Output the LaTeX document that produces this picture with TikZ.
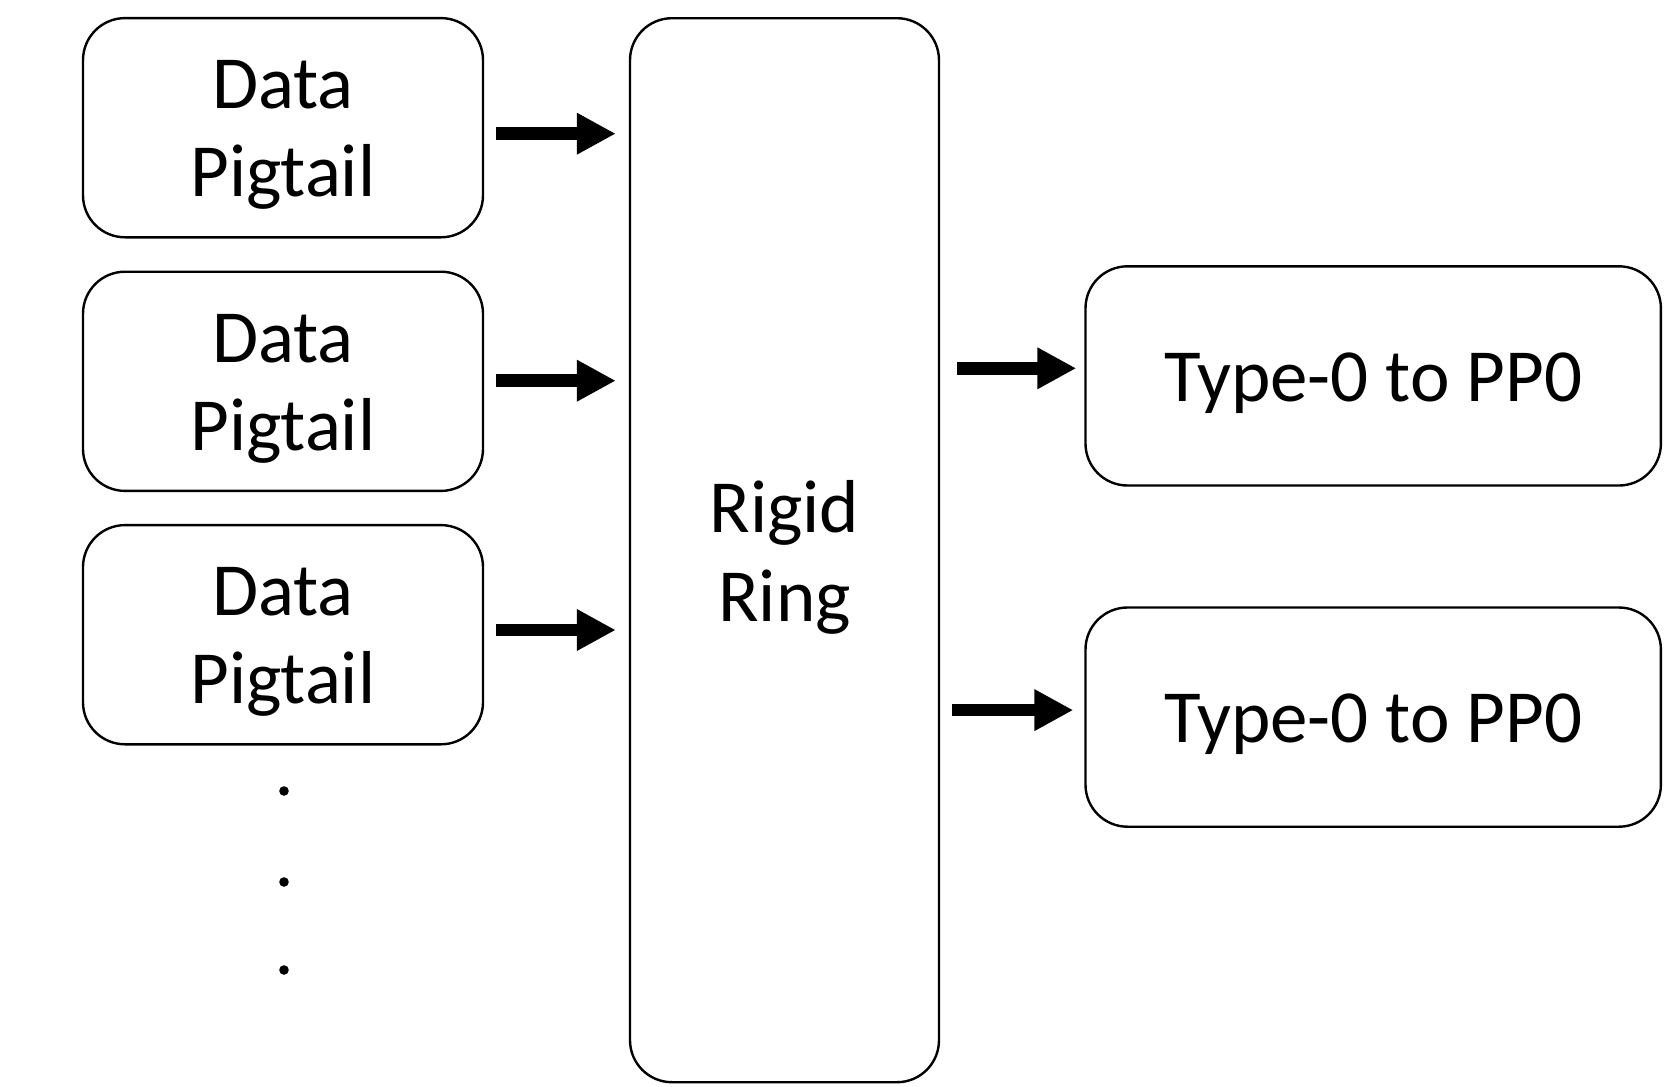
\documentclass[tikz,border=0pt]{standalone}
\usepackage{fontspec}
\setmainfont{Carlito}
\usetikzlibrary{arrows.meta}
\begin{document}
\begin{tikzpicture}[x=0.5pt,y=-0.5pt,
  box/.style={draw=black,line width=1.2pt,rounded corners=21pt,inner sep=0pt},
  lbl/.style={align=center,font=\fontsize{37.5}{44.2}\selectfont,inner sep=0pt,yshift=-3.7pt},
  arr/.style={line width=6.3pt,-{Triangle[length=19.5pt,width=19.5pt]}},
  dot/.style={circle,fill=black,inner sep=0pt,minimum size=4.8pt}]
\useasboundingbox (0,0) rectangle (1677,1087);
\node[box,minimum width=200pt,minimum height=109.6pt] (dp1) at (283,127.7) {};
\node[box,minimum width=200pt,minimum height=109.6pt] (dp2) at (283,381.3) {};
\node[box,minimum width=200pt,minimum height=109.6pt] (dp3) at (283,634.7) {};
\node[box,minimum width=154.5pt,minimum height=532pt] (rr) at (784.5,550.2) {};
\node[box,minimum width=287.7pt,minimum height=109.6pt] (t1) at (1373.2,375.9) {};
\node[box,minimum width=287.7pt,minimum height=109.6pt] (t2) at (1373.2,717.1) {};
\node[lbl] (dp1t) at (dp1) {Data\\Pigtail};
\node[lbl] (dp2t) at (dp2) {Data\\Pigtail};
\node[lbl] (dp3t) at (dp3) {Data\\Pigtail};
\node[lbl] (rrt) at (rr) {Rigid\\Ring};
\node[lbl] (t1t) at (t1) {Type-0 to PP0};
\node[lbl] (t2t) at (t2) {Type-0 to PP0};
\node[dot] (d1) at (284,791) {};
\node[dot] (d2) at (284,882) {};
\node[dot] (d3) at (284,970) {};
\coordinate (a1) at ([shift={(12,6)}]dp1.east);
\coordinate (a2) at ([shift={(12,-0.6)}]dp2.east);
\coordinate (a3) at ([shift={(12,-4.7)}]dp3.east);
\coordinate (a4) at ([shift={(17,-7.6)}]rr.east |- t1.west);
\coordinate (a5) at ([shift={(12,-7)}]rr.east |- t2.west);
\draw[arr] (a1) -- ([xshift=-6.5pt]a1 -| rr.west);
\draw[arr] (a2) -- ([xshift=-6.5pt]a2 -| rr.west);
\draw[arr] (a3) -- ([xshift=-6.5pt]a3 -| rr.west);
\draw[arr] (a4) -- ([xshift=-4pt]a4 -| t1.west);
\draw[arr] (a5) -- ([xshift=-5.5pt]a5 -| t2.west);
\end{tikzpicture}
\end{document}
